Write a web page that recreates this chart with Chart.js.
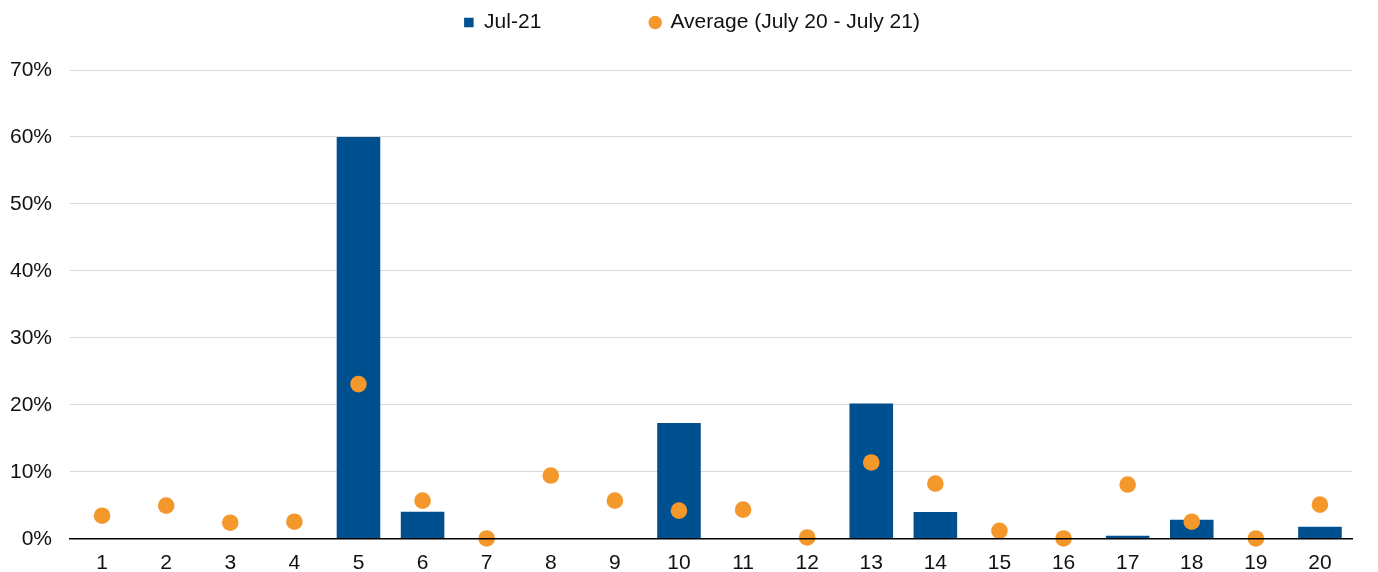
<!DOCTYPE html>
<html><head><meta charset="utf-8">
<script src="https://cdn.jsdelivr.net/npm/chart.js@4/dist/chart.umd.min.js"></script>
<style>html,body{margin:0;padding:0;background:#fff}#wrap{width:1378px;height:572px}</style>
</head><body><div id="wrap"><canvas id="c" width="1378" height="572"></canvas></div>
<script>
const categories = ['1','2','3','4','5','6','7','8','9','10','11','12','13','14','15','16','17','18','19','20'];
const jul21 = [0,0,0,0,60.0,4.05,0,0,0,17.3,0,0,20.2,4.0,0,0,0.45,2.85,0,1.8];
const average = [3.45,4.95,2.4,2.55,23.1,5.7,0.05,9.45,5.7,4.2,4.35,0.2,11.4,8.25,1.2,0.05,8.1,2.55,0.05,5.1];
const yTicks = [0,10,20,30,40,50,60,70];

Chart.defaults.font.family = "'Liberation Sans', Arial, sans-serif";
Chart.defaults.color = '#000';
const legendMargin = {id:'legendMargin',
  beforeInit(chart){
    const f = chart.legend.fit;
    chart.legend.fit = function(){ f.bind(chart.legend)(); this.height += 27; };
  },
  afterLayout(chart){ chart.legend.left += 20; chart.legend.right += 20; }
};
new Chart(document.getElementById('c'), {
  data: {
    labels: categories,
    datasets: [
      {type:'bar', label:'Jul-21', data: jul21, backgroundColor:'#004F8F', order:1,
       categoryPercentage:1, barPercentage:0.68, pointStyle:'rect'},
      {type:'line', label:'Average (July 20 - July 21)', data: average, showLine:false, clip:false,
       pointRadius:8.3, pointHoverRadius:8.3, pointBackgroundColor:'#F4982C', pointBorderWidth:0,
       borderColor:'#F4982C', backgroundColor:'#F4982C', pointStyle:'circle', order:0}
    ]
  },
  options: {
    responsive:false, animation:false,
    layout:{autoPadding:false, padding:{left:-8,right:26,top:2,bottom:-16}},
    plugins:{
      legend:{position:'top', labels:{usePointStyle:true, boxWidth:9.5, boxHeight:9.5, padding:10,
        font:{size:21}, color:'#111',
        generateLabels(chart){
          const items = Chart.defaults.plugins.legend.labels.generateLabels(chart);
          items.forEach(it=>{ it.text = it.text + (it.datasetIndex===0 ? '                 ' : ''); });
          return items;
        },
        sort:(a,b)=>a.datasetIndex-b.datasetIndex}},
      tooltip:{enabled:false}
    },
    scales:{
      x:{offset:true, grid:{display:false, drawTicks:false}, border:{display:true,color:'#000',width:1.5, z:1},
         ticks:{font:{size:21}, color:'#111', padding:12}},
      y:{min:0, max:70, afterBuildTicks(ax){ax.ticks = yTicks.map(v=>({value:v}));},
         grid:{color:'#d9d9d9', lineWidth:1, drawTicks:false}, border:{display:false},
         ticks:{font:{size:21}, color:'#111', padding:18, callback:v=>v+'%'}}
    }
  },
  plugins:[legendMargin]
});
</script></body></html>
